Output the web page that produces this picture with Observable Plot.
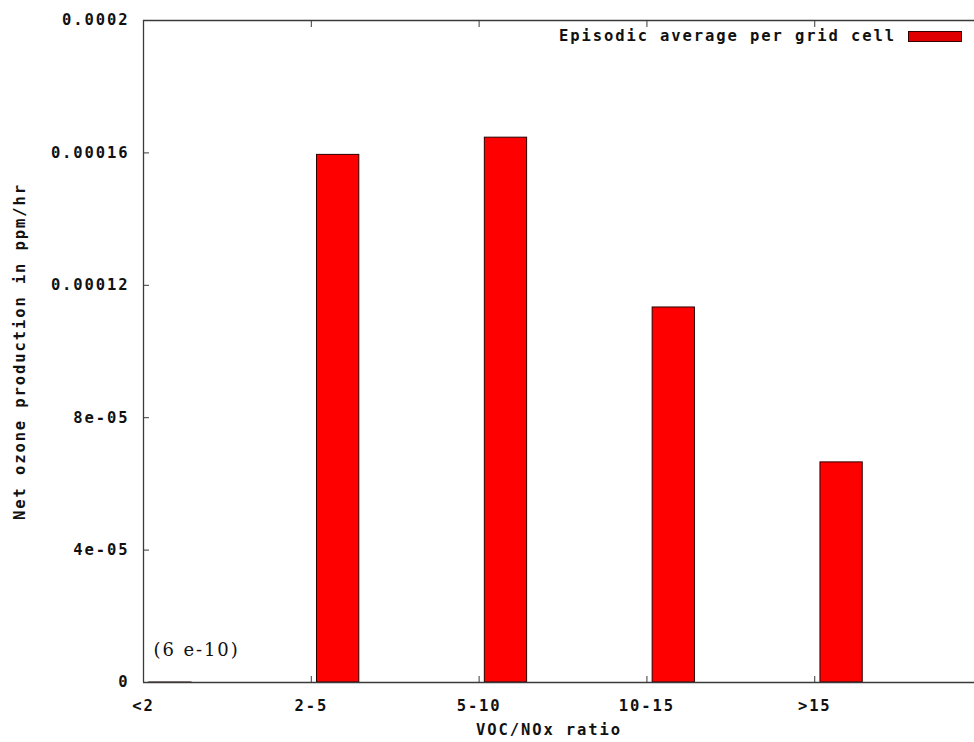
<!DOCTYPE html>
<html>
<head>
<meta charset="utf-8">
<script src="https://cdn.jsdelivr.net/npm/d3@7"></script>
<script src="https://cdn.jsdelivr.net/npm/@observablehq/plot@0.6"></script>
<style>
  html, body { margin: 0; padding: 0; background: #fff; }
  #wrap { position: relative; width: 974px; height: 742px; overflow: hidden; }
  #legend { position: absolute; right: 0; top: 0; font-family: "DejaVu Sans Mono", monospace; font-weight: bold; font-size: 15.5px; letter-spacing: 1.9px; color: #111; }
  #legend .t { position: absolute; right: 78px; top: 27px; white-space: nowrap; }
  #legend .k { position: absolute; left: 908px; top: 31px; width: 52px; height: 9px; background: #e00000; border: 1px solid #300; }
</style>
</head>
<body>
<div id="wrap"></div>
<script>
const categories = ["<2", "2-5", "5-10", "10-15", ">15"];
const values = [6e-10, 0.0001594, 0.0001646, 0.0001133, 0.0000665];
const yTicks = [0, 4e-5, 8e-5, 0.00012, 0.00016, 0.0002];
const yTickLabels = ["0", "4e-05", "8e-05", "0.00012", "0.00016", "0.0002"];
const seriesName = "Episodic average per grid cell";
const xTitle = "VOC/NOx ratio";
const yTitle = "Net ozone production in ppm/hr";
const annotation = "(6 e-10)";

const xTicks = categories.map((c, i) => i);
const data = categories.map((c, i) => ({cat: c, i, v: values[i]}));

const barStart = 0.034, barEnd = 0.286;
const axisColor = "#3a3a3a";

const chart = Plot.plot({
  width: 974,
  height: 742,
  marginLeft: 143,
  marginRight: 0,
  marginTop: 20,
  marginBottom: 60,
  x: {type: "linear", domain: [0, 4.952], axis: null},
  y: {domain: [0, 0.0002], axis: null},
  style: {fontFamily: "DejaVu Sans Mono, monospace", fontWeight: "bold", fontSize: "15.5px", letterSpacing: "1.9px", background: "white", color: "#111"},
  marks: [
    Plot.rectY(data, {x1: d => d.i + barStart, x2: d => d.i + barEnd, y1: 0, y2: "v", fill: "#ff0000", stroke: "#2a0000", strokeWidth: 1}),
    Plot.ruleX([0], {stroke: axisColor, strokeWidth: 1.3}),
    Plot.ruleY([0], {stroke: axisColor, strokeWidth: 1.4}),
    Plot.ruleY([0.0002], {stroke: axisColor, strokeWidth: 1.3}),
    Plot.axisY({ticks: yTicks, tickFormat: d => yTickLabels[yTicks.indexOf(d)], tickSize: -6, tickPadding: 20, label: null, stroke: axisColor}),
    Plot.axisX({ticks: xTicks, tickFormat: d => categories[d], tickSize: -6, tickPadding: 23, label: null, stroke: axisColor}),
    Plot.axisX({anchor: "top", ticks: xTicks, tickFormat: () => "", tickSize: -6, label: null, stroke: axisColor}),
    Plot.text([yTitle], {frameAnchor: "left", rotate: -90, dx: -123, textAnchor: "middle"}),
    Plot.text([xTitle], {frameAnchor: "bottom", dx: -10, dy: 52, textAnchor: "middle"}),
    Plot.text(data.filter(d => d.i === 0), {x: "i", y: "v", text: () => annotation, textAnchor: "start", dx: 10, dy: -32, fontFamily: "DejaVu Serif, serif", fontWeight: "normal", fontSize: 18, letterSpacing: "-0.3px", fill: "#111"})
  ]
});

const wrap = document.getElementById("wrap");
wrap.appendChild(chart);
const legend = document.createElement("div");
legend.id = "legend";
legend.style.width = "974px";
legend.style.height = "60px";
legend.innerHTML = `<span class="t"></span><span class="k"></span>`;
legend.querySelector(".t").textContent = seriesName;
wrap.appendChild(legend);
</script>
</body>
</html>
